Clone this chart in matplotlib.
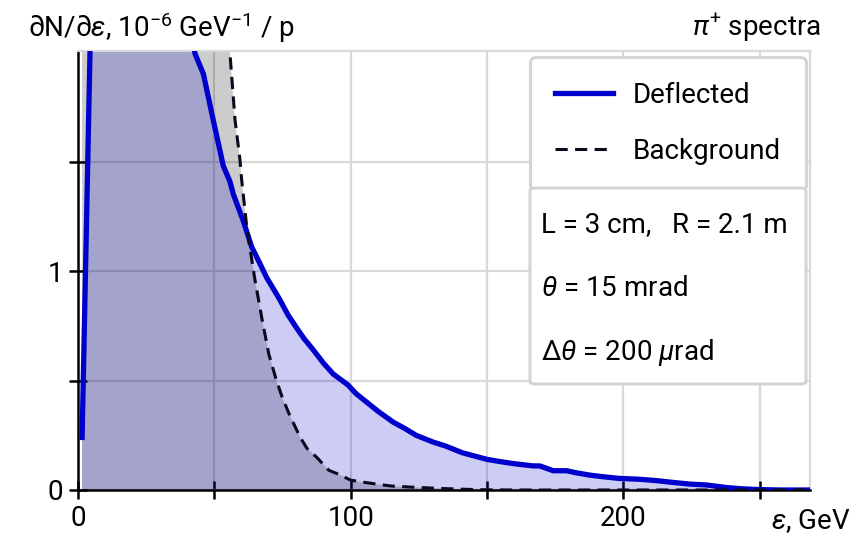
import numpy as np
import matplotlib
matplotlib.use("Agg")
import matplotlib.pyplot as plt
from matplotlib.patches import FancyBboxPatch
from matplotlib.ticker import FixedLocator, NullFormatter

FONT = "Roboto"
plt.rcParams["font.family"] = [FONT, "DejaVu Sans"]
plt.rcParams["mathtext.fontset"] = "custom"
plt.rcParams["mathtext.rm"] = FONT
plt.rcParams["mathtext.it"] = FONT + ":italic"
plt.rcParams["mathtext.bf"] = FONT + ":bold"

# pi+ energy spectra, 10^-6 GeV^-1 per proton
eps_defl = [1.5, 6, 10, 15, 20, 25, 30, 35, 40, 43, 46, 49.6, 53.3, 55.7, 57,
            60.6, 63.7, 66.5, 69.2, 74, 77, 80.2, 83, 86.3, 90, 93.6, 99, 102,
            106, 110, 115.6, 120, 124, 130, 135, 141, 147, 150, 154.7, 160,
            167, 169.4, 174.3, 179.2, 183, 187.7, 193, 198.4, 206, 212, 218,
            224.4, 230.5, 238, 243, 247.6, 253, 258, 270]
dn_defl = [0.24, 2.97, 3.5, 3.8, 3.75, 3.5, 3.05, 2.6, 2.15, 1.99, 1.90, 1.69,
           1.48, 1.41, 1.35, 1.23, 1.11, 1.04, 0.97, 0.87, 0.80, 0.74, 0.69,
           0.64, 0.58, 0.53, 0.48, 0.44, 0.40, 0.36, 0.31, 0.28, 0.25, 0.22,
           0.20, 0.17, 0.15, 0.14, 0.13, 0.12, 0.11, 0.11, 0.088, 0.088,
           0.078, 0.068, 0.060, 0.053, 0.049, 0.043, 0.035, 0.027, 0.023,
           0.011, 0.006, 0.003, 0.001, 0.0, 0.0]

eps_bg = [1.5, 10, 20, 30, 40, 50, 53, 55.7, 57.6, 59.4, 60, 62, 64.9, 67.5,
          70, 72.8, 75, 77.7, 81.4, 84, 87.5, 92, 96, 100, 105, 109.5, 115,
          124, 133, 142.5, 150, 160, 270]
dn_bg = [9.0, 8.0, 6.5, 5.0, 3.8, 2.7, 2.35, 2.0, 1.69, 1.51, 1.42, 1.19, 0.96,
         0.78, 0.62, 0.50, 0.42, 0.34, 0.243, 0.19, 0.15, 0.09, 0.07, 0.045,
         0.035, 0.027, 0.018, 0.012, 0.007, 0.003, 0.001, 0.0, 0.0]

x_major = [0, 100, 200]
x_minor = [50, 150, 250]
y_major = [0, 1]
y_minor = [0.5, 1.5]

params = ["L = 3 cm,   R = 2.1 m",
          r"$\theta$ = 15 mrad",
          r"$\Delta\theta$ = 200 $\mu$rad"]

BLUE = "#0000cd"
FS = 20
W, H = 866, 540


def fx(px):
    return px / W


def fy(py):
    return 1 - py / H


fig = plt.figure(figsize=(W / 100, H / 100), dpi=100)
ax = fig.add_axes([fx(78), fy(490), 732 / W, 439 / H])

ax.fill_between(eps_bg, dn_bg, color="black", alpha=0.2, lw=0, zorder=1)
ax.fill_between(eps_defl, dn_defl, color=BLUE, alpha=0.2, lw=0, zorder=1)
ax.plot(eps_defl, dn_defl, color=BLUE, lw=3.8, label="Deflected", zorder=3)
ax.plot(eps_bg, dn_bg, color="#0a0a1e", lw=2.2, ls=(0, (4.0, 2.4)),
        label="Background", zorder=3)

ax.set_xlim(0, 268.5)
ax.set_ylim(0, 2.005)

ax.xaxis.set_major_locator(FixedLocator(x_major))
ax.xaxis.set_minor_locator(FixedLocator(x_minor))
ax.yaxis.set_major_locator(FixedLocator(y_major))
ax.yaxis.set_minor_locator(FixedLocator(y_minor))
ax.xaxis.set_minor_formatter(NullFormatter())
ax.yaxis.set_minor_formatter(NullFormatter())

ax.grid(True, which="both", color="#d9d9d9", lw=1.6, zorder=0)
ax.set_axisbelow(True)

for side in ("left", "bottom"):
    ax.spines[side].set_color("black")
    ax.spines[side].set_linewidth(1.8)
for side in ("top", "right"):
    ax.spines[side].set_color("#d9d9d9")
    ax.spines[side].set_linewidth(1.6)

ax.tick_params(which="both", direction="inout", length=13, width=1.8,
               labelsize=FS, color="black", pad=4)

fig.text(fx(28), fy(28),
         r"∂N/∂$\varepsilon$, 10$^{-6}$ GeV$^{-1}$ / p",
         fontsize=FS, ha="left", va="center")
fig.text(fx(821), fy(28), r"$\pi^{+}$ spectra",
         fontsize=FS, ha="right", va="center")
fig.text(fx(811), fy(521), r"$\varepsilon$, GeV",
         fontsize=FS, ha="center", va="center")

leg = ax.legend(loc="upper right", bbox_to_anchor=(fx(806), fy(57)),
                bbox_transform=fig.transFigure,
                fontsize=FS, frameon=True, fancybox=True, framealpha=1,
                edgecolor="#d4d4d4", handlelength=2.1, labelspacing=1.05,
                borderpad=0.9, handletextpad=0.7, borderaxespad=0)
leg.get_frame().set_linewidth(2.2)

# parameter box
box = FancyBboxPatch((fx(530), fy(384)), 276 / W, 196 / H,
                     boxstyle="round,pad=0,rounding_size=0.006",
                     transform=fig.transFigure, facecolor="white",
                     edgecolor="#d4d4d4", lw=2.2, zorder=5)
fig.patches.append(box)
for txt, py in zip(params, [225, 289, 352]):
    fig.text(fx(541), fy(py), txt, fontsize=FS, ha="left", va="center",
             zorder=6)

fig.savefig("out.png", dpi=100)
